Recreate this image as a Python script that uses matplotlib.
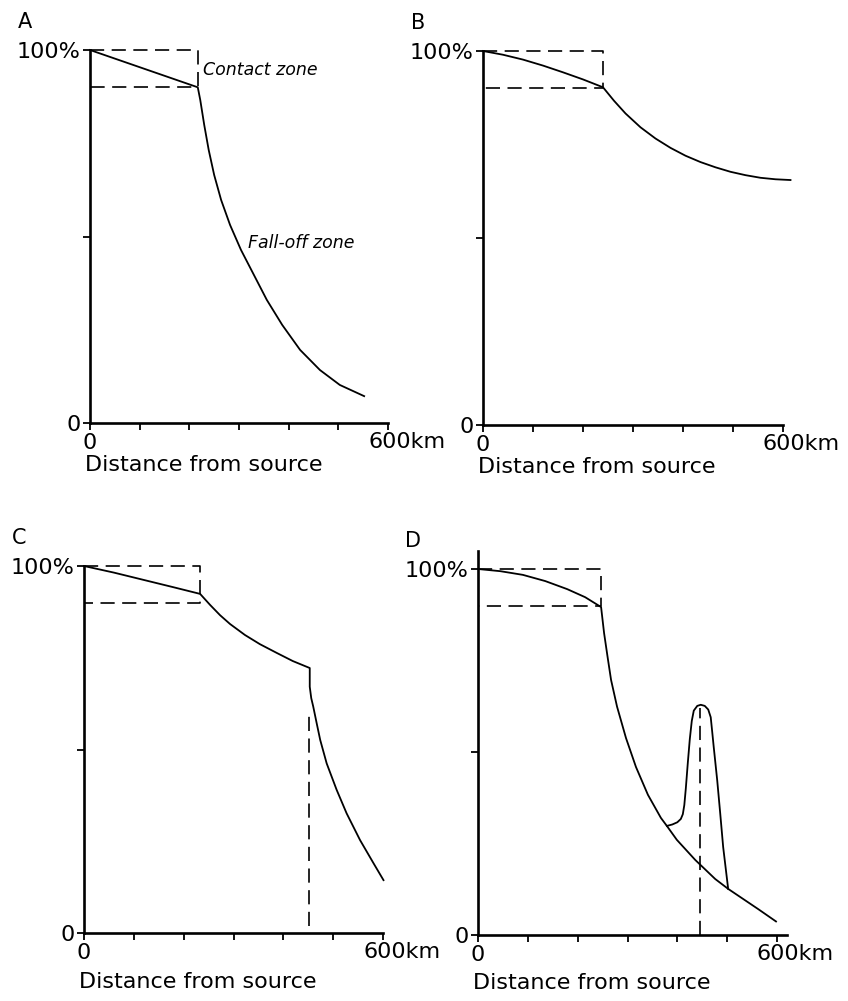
import numpy as np
import matplotlib.pyplot as plt

# distance from source (km) and percentage, one curve per model
a_km = [0, 217, 222, 230, 239, 250, 264, 282, 304, 330, 356, 387, 423, 463, 503, 552]
a_pct = [100, 90, 86.6, 79.9, 73.2, 66.5, 59.8, 53.1, 46.4, 39.7, 33.0, 26.3, 19.6, 14.2, 10.2, 7.2]

b_km = [0, 40, 80, 120, 160, 200, 240, 262, 285, 315, 345, 375, 405, 435, 465, 495, 525, 555,
        585, 615]
b_pct = [100, 99.0, 97.7, 96.1, 94.3, 92.4, 90.3, 86.7, 83.3, 79.6, 76.6, 74.1, 72.0, 70.3,
         68.9, 67.7, 66.8, 66.1, 65.7, 65.5]

c_km = [0, 60, 120, 180, 233, 253, 273, 293, 323, 353, 387, 419, 453, 453, 456, 460, 467, 474,
        487, 507, 527, 554, 581, 601]
c_pct = [100, 98.2, 96.2, 94.2, 92.4, 89.4, 86.6, 84.2, 81.2, 78.7, 76.3, 74.1, 72.2, 67.1,
         64.0, 61.7, 57.1, 52.6, 46.2, 39.0, 32.6, 25.3, 19.0, 14.4]

d_km = [0, 45, 90, 135, 179, 215, 247, 253, 260, 267, 279, 297, 317, 341, 367, 379, 399, 436,
        476, 502, 526, 562, 598]
d_pct = [100, 99.4, 98.4, 96.7, 94.5, 92.3, 89.6, 82.5, 76.0, 69.7, 62.4, 53.8, 45.9, 38.3,
         32.0, 29.8, 26.0, 20.5, 15.3, 12.6, 10.4, 7.1, 3.7]

# secondary peak in D
peak_km = [379, 390, 400, 407, 411, 414, 417, 421, 425, 429, 433, 440, 447, 455, 462, 467, 470,
           473, 480, 486, 492, 502]
peak_pct = [29.8, 30.2, 30.8, 31.7, 33.0, 35.5, 40.0, 47.0, 53.5, 58.5, 61.3, 62.6, 62.9, 62.6,
            61.6, 59.5, 55.5, 51.4, 42.3, 33.3, 24.0, 12.6]

# contact zone edge (km) for A-D, and its lower limit (%)
contact_km = [217, 240, 232, 247]
contact_floor = 90

# dashed markers: C break point, D peak
c_break_km, c_break_pct = 452, [2, 60]
d_peak_km, d_peak_pct = 445, [0, 62]

panel_names = ['A', 'B', 'C', 'D']

W, H = 848, 1001
# axes boxes in pixels: x of 0 km, x of 600 km, y of 0 %, y of 100 %
boxes = [(90, 388, 423, 50), (483, 783, 425, 51), (84, 383, 933, 566), (478, 777, 935, 569)]
label_drop = [-42, -42, -49, -48]

fig = plt.figure(figsize=(W / 100, H / 100), dpi=100)
plt.rcParams['font.family'] = 'DejaVu Sans'

dash = (0, (8.5, 4.5))
fs = 16
axes = []
for (x0, x1, y0, y1), name, drop in zip(boxes, panel_names, label_drop):
    ax = fig.add_axes([x0 / W, 1 - y0 / H, (x1 - x0) / W, (y0 - y1) / H])
    ax.set_xlim(0, 600)
    ax.set_ylim(0, 100)
    for s in ['top', 'right']:
        ax.spines[s].set_visible(False)
    for s in ['left', 'bottom']:
        ax.spines[s].set_linewidth(1.9)
    ax.set_xticks(np.arange(0, 700, 100), ['0', '', '', '', '', '', ''])
    ax.set_yticks([0, 50, 100], ['0', '', '100%'])
    ax.tick_params(direction='out', length=5, width=1.3, labelsize=fs, pad=2)
    ax.annotate('600km', xy=(600, 0), xytext=(-20, -9), textcoords='offset pixels',
                ha='left', va='top', fontsize=fs)
    ax.annotate('Distance from source', xy=(0, 0), xytext=(-5, drop), textcoords='offset pixels',
                ha='left', va='center', fontsize=fs)
    ax.annotate(name, xy=(0, 100), xytext=(-65, 28), textcoords='offset pixels',
                ha='center', va='center', fontsize=15)
    ax.patch.set_visible(False)
    axes.append(ax)

curves = [(a_km, a_pct), (b_km, b_pct), (c_km, c_pct), (d_km, d_pct)]
for ax, (km, pct), edge in zip(axes, curves, contact_km):
    ax.plot(km, pct, color='black', lw=1.3, clip_on=False, solid_joinstyle='round')
    ax.plot([0, edge, edge, 0], [100, 100, contact_floor, contact_floor],
            color='black', lw=1.2, ls=dash, clip_on=False)

ax_a, ax_b, ax_c, ax_d = axes
ax_a.text(227, 94.6, 'Contact zone', style='italic', fontsize=12.5, va='center')
ax_a.text(318, 48.3, 'Fall-off zone', style='italic', fontsize=12.5, va='center')

ax_c.plot([c_break_km, c_break_km], c_break_pct, color='black', lw=1.2, ls=dash)

ax_d.plot(peak_km, peak_pct, color='black', lw=1.3, solid_joinstyle='round')
ax_d.plot([d_peak_km, d_peak_km], d_peak_pct, color='black', lw=1.2, ls=dash)
ax_d.spines['bottom'].set_bounds(0, 620)
ax_d.spines['left'].set_bounds(0, 105)

fig.savefig('out.png', dpi=100, facecolor='white')
